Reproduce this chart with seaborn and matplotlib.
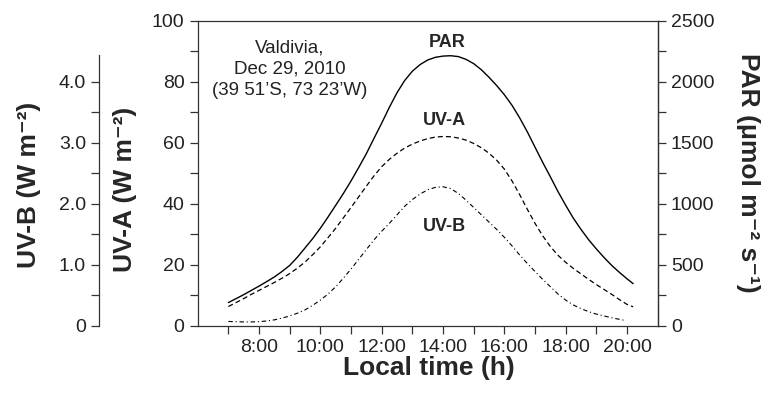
import numpy as np
import pandas as pd
import matplotlib
matplotlib.use("Agg")
import matplotlib.pyplot as plt
from matplotlib.ticker import MultipleLocator, FixedLocator, FixedFormatter
import seaborn as sns

# values (local time in decimal hours)
hours = [7.0, 7.25, 7.5, 7.75, 8.0, 8.25, 8.5, 8.75, 9.0, 9.25, 9.5, 9.75,
         10.0, 10.25, 10.5, 10.75, 11.0, 11.25, 11.5, 11.75, 12.0, 12.25, 12.5, 12.75,
         13.0, 13.25, 13.5, 13.75, 14.0, 14.25, 14.5, 14.75, 15.0, 15.25, 15.5, 15.75,
         16.0, 16.25, 16.5, 16.75, 17.0, 17.25, 17.5, 17.75, 18.0, 18.25, 18.5, 18.75,
         19.0, 19.25, 19.5, 19.75, 20.0, 20.2]
par = [190, 222, 255, 290, 325, 362, 400, 445, 495, 562, 638, 715,
       800, 892, 988, 1085, 1188, 1298, 1412, 1538, 1662, 1792, 1912, 2012,
       2088, 2142, 2180, 2202, 2212, 2215, 2208, 2185, 2150, 2100, 2038, 1970,
       1895, 1808, 1705, 1590, 1465, 1340, 1222, 1100, 988, 882, 790, 705,
       630, 560, 495, 438, 385, 345]
uva = [6.3, 7.6, 8.9, 10.3, 11.6, 12.9, 14.2, 15.6, 17.1, 18.9, 20.9, 23.3,
       25.9, 28.9, 32.0, 35.4, 38.8, 42.3, 45.8, 49.2, 52.2, 54.6, 56.6, 58.3,
       59.6, 60.6, 61.4, 61.9, 62.1, 62.0, 61.6, 60.9, 59.8, 58.4, 56.6, 54.3,
       51.4, 47.5, 43.0, 38.2, 33.6, 29.5, 26.0, 23.1, 20.8, 18.8, 17.0, 15.2,
       13.5, 11.9, 10.3, 8.6, 7.0, 6.2]
uvb_hours = [7.0, 7.25, 7.5, 7.75, 8.0, 8.25, 8.5, 8.75, 9.0, 9.25, 9.5, 9.75,
             10.0, 10.25, 10.5, 10.75, 11.0, 11.25, 11.5, 11.75, 12.0, 12.25, 12.5, 12.75,
             13.0, 13.25, 13.5, 13.75, 14.0, 14.25, 14.5, 14.75, 15.0, 15.25, 15.5, 15.75,
             16.0, 16.25, 16.5, 16.75, 17.0, 17.25, 17.5, 17.75, 18.0, 18.25, 18.5, 18.75,
             19.0, 19.25, 19.5, 19.75, 19.9]
uvb = [0.07, 0.065, 0.062, 0.062, 0.066, 0.078, 0.096, 0.125, 0.16, 0.205, 0.26, 0.335,
       0.42, 0.52, 0.64, 0.78, 0.93, 1.09, 1.25, 1.41, 1.55, 1.68, 1.82, 1.96,
       2.07, 2.16, 2.23, 2.27, 2.28, 2.25, 2.17, 2.06, 1.94, 1.82, 1.70, 1.58,
       1.45, 1.31, 1.16, 1.02, 0.89, 0.76, 0.64, 0.52, 0.42, 0.34, 0.28, 0.23,
       0.19, 0.16, 0.13, 0.105, 0.09]

hour_ticks = list(range(7, 21))
hour_labels = ["" if h % 2 else f"{h}:00" for h in hour_ticks]

sns.set_style("ticks")
plt.rcParams["font.family"] = ["Liberation Sans", "DejaVu Sans"]

fig = plt.figure(figsize=(7.73, 3.96), dpi=100)
ax = fig.add_axes([0.2558, 0.1775, 0.595, 0.7695])
ax_par = ax.twinx()
ax_uvb = ax.twinx()

df = pd.DataFrame({"hour": hours, "par": par, "uva": uva})
df_b = pd.DataFrame({"hour": uvb_hours, "uvb": uvb})

sns.lineplot(data=df, x="hour", y="uva", ax=ax, color="black", lw=0.9,
             linestyle=(0, (4, 2.5)))
sns.lineplot(data=df, x="hour", y="par", ax=ax_par, color="black", lw=1.0)
sns.lineplot(data=df_b, x="hour", y="uvb", ax=ax_uvb, color="black", lw=0.8,
             linestyle=(0, (4, 2.5, 1, 2.5)))

tick_kw = dict(labelsize=14, length=6, width=0.9, color="#333333", labelcolor="#222222")

# UV-A (main left axis)
ax.set_xlim(6, 21)
ax.set_ylim(0, 100)
ax.yaxis.set_major_locator(MultipleLocator(20))
ax.yaxis.set_minor_locator(MultipleLocator(10))
ax.xaxis.set_major_locator(FixedLocator(hour_ticks))
ax.xaxis.set_major_formatter(FixedFormatter(hour_labels))
ax.tick_params(which="both", **tick_kw)
ax.set_xlabel("Local time (h)", fontsize=19, fontweight="bold", va="center")
ax.xaxis.set_label_coords(0.502, -0.139)
ax.set_ylabel("UV-A (W m⁻²)", fontsize=19, fontweight="bold",
              rotation=90, va="center", ha="center")
ax.yaxis.set_label_coords(-0.158, 0.447)

# PAR (right axis)
ax_par.set_ylim(0, 2500)
ax_par.yaxis.set_major_locator(MultipleLocator(500))
ax_par.yaxis.set_minor_locator(MultipleLocator(250))
ax_par.tick_params(which="both", **tick_kw)
ax_par.set_ylabel("PAR (μmol m⁻² s⁻¹)", fontsize=19, fontweight="bold",
                  rotation=270, va="center", ha="center")
ax_par.yaxis.set_label_coords(1.196, 0.501)

# UV-B (outer left axis)
ax_uvb.set_ylim(0, 5)
ax_uvb.yaxis.set_ticks_position("left")
ax_uvb.yaxis.set_label_position("left")
ax_uvb.spines["left"].set_visible(True)
ax_uvb.spines["left"].set_position(("outward", 71))
ax_uvb.spines["left"].set_bounds(0, 4.45)
for s in ["right", "top", "bottom"]:
    ax_uvb.spines[s].set_visible(False)
ax_uvb.yaxis.set_major_locator(FixedLocator([0, 1, 2, 3, 4]))
ax_uvb.yaxis.set_major_formatter(FixedFormatter(["0", "1.0", "2.0", "3.0", "4.0"]))
ax_uvb.yaxis.set_minor_locator(FixedLocator([0.5, 1.5, 2.5, 3.5]))
ax_uvb.tick_params(which="both", **tick_kw)
ax_uvb.set_ylabel("UV-B (W m⁻²)", fontsize=19, fontweight="bold",
                  rotation=90, va="center", ha="center")
ax_uvb.yaxis.set_label_coords(-0.366, 0.462)

for a in (ax, ax_par, ax_uvb):
    for s in a.spines.values():
        s.set_linewidth(0.9)
        s.set_color("#333333")
for s in ["left", "top", "bottom"]:
    ax_par.spines[s].set_visible(False)

# annotations (data coordinates of the UV-A axis)
ax.text(9.01, 84.2, "Valdivia,\nDec 29, 2010\n(39 51’S, 73 23’W)", fontsize=13.5,
        ha="center", va="center", linespacing=1.32, color="#222222")
ax.text(14.14, 93.1, "PAR", fontsize=13, fontweight="bold", ha="center", va="center")
ax.text(14.05, 67.5, "UV-A", fontsize=13, fontweight="bold", ha="center", va="center")
ax.text(14.05, 32.7, "UV-B", fontsize=13, fontweight="bold", ha="center", va="center")

fig.savefig("out.png", dpi=100)
